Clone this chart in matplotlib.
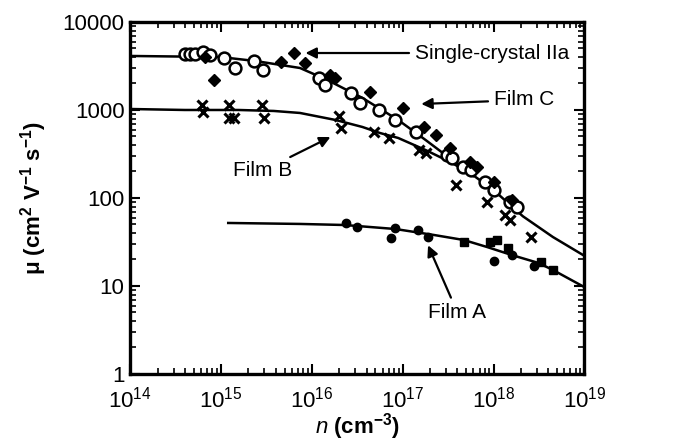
import matplotlib
matplotlib.use("Agg")
import matplotlib.pyplot as plt

plt.rcParams["font.family"] = ["Liberation Sans", "DejaVu Sans"]
plt.rcParams["mathtext.fontset"] = "custom"
plt.rcParams["mathtext.rm"] = "Liberation Sans"
plt.rcParams["mathtext.it"] = "Liberation Sans:italic"
plt.rcParams["mathtext.bf"] = "Liberation Sans:bold"

# carrier density n (cm^-3) and Hall mobility mu (cm^2 V^-1 s^-1)
film_c_n = [4.0e14, 4.5e14, 5.2e14, 6.3e14, 7.6e14, 1.07e15, 1.44e15, 2.3e15, 2.9e15,
            1.2e16, 1.38e16, 2.7e16, 3.4e16, 5.5e16, 8.3e16, 1.4e17, 3.1e17, 3.5e17,
            4.6e17, 5.7e17, 8.1e17, 1.02e18, 1.5e18, 1.8e18]
film_c_mu = [4330, 4330, 4330, 4570, 4220, 3890, 3020, 3630, 2820,
             2290, 1900, 1580, 1200, 1000, 776, 562, 309, 282,
             224, 209, 151, 123, 89, 79]

crystal_n = [6.6e14, 8.3e14, 4.6e15, 6.3e15, 8.3e15, 1.58e16, 1.8e16, 4.4e16,
             1.0e17, 1.7e17, 2.3e17, 3.3e17, 5.5e17, 6.5e17, 1.0e18, 1.6e18]
crystal_mu = [3990, 2190, 3510, 4440, 3420, 2500, 2310, 1600,
              1050, 646, 520, 371, 257, 225, 151, 95]

film_b_n = [6.2e14, 6.3e14, 1.23e15, 1.23e15, 1.38e15, 2.8e15, 3.0e15, 2.0e16, 2.1e16,
            4.8e16, 7.1e16, 1.5e17, 1.8e17, 3.9e17, 8.5e17, 1.35e18, 1.5e18, 2.6e18]
film_b_mu = [1140, 950, 1140, 811, 811, 1140, 811, 853, 624,
             562, 480, 351, 324, 141, 90, 64, 56, 36]

film_a_circ_n = [2.4e16, 3.1e16, 8.3e16, 7.4e16, 1.48e17, 1.9e17, 1.0e18, 1.6e18, 2.8e18]
film_a_circ_mu = [52, 46.8, 45.6, 35, 43, 36, 19.2, 22.5, 16.9]
film_a_sq_n = [4.7e17, 9.1e17, 1.1e18, 1.45e18, 3.3e18, 4.5e18]
film_a_sq_mu = [31.6, 31.6, 33, 27, 18.7, 15.2]

# fitted curves
fit_c_n = [1e14, 9.8e14, 2.4e15, 7.4e15, 1.48e16, 3.6e16, 8.9e16, 1.78e17, 3.5e17,
           1.0e18, 2.1e18, 4.5e18, 1e19]
fit_c_mu = [4110, 4000, 3600, 3000, 2190, 1370, 770, 457, 270, 123, 62, 36, 22]
fit_b_n = [1e14, 4.0e14, 1.55e15, 3.8e15, 7.4e15, 1.82e16, 3.6e16, 5.6e16, 8.9e16,
           1.78e17, 3.5e17, 6.0e17]
fit_b_mu = [1026, 1000, 1000, 975, 925, 770, 641, 548, 481, 351, 250, 178]
fit_a_n = [1.2e15, 7.4e15, 2.3e16, 8.3e16, 2.2e17, 4.7e17, 8.5e17, 1.58e18, 3.1e18,
           4.5e18, 1e19]
fit_a_mu = [52, 50.7, 49.3, 44.4, 38, 33.3, 27.7, 22.5, 18.3, 15.2, 9.7]

fig = plt.figure(figsize=(6.78, 4.45), dpi=100)
ax = fig.add_axes([0.192, 0.1596, 0.670, 0.791])

lw_fit = 1.8
ax.plot(fit_c_n, fit_c_mu, color="black", lw=lw_fit)
ax.plot(fit_b_n, fit_b_mu, color="black", lw=lw_fit)
ax.plot(fit_a_n, fit_a_mu, color="black", lw=lw_fit)

ax.plot(film_c_n, film_c_mu, "o", ms=8.5, mfc="white", mec="black", mew=1.8)
ax.plot(crystal_n, crystal_mu, "D", ms=6, color="black")
ax.plot(film_b_n, film_b_mu, "x", ms=6.5, mec="black", mew=2.2)
ax.plot(film_a_circ_n, film_a_circ_mu, "o", ms=6, color="black")
ax.plot(film_a_sq_n, film_a_sq_mu, "s", ms=5.5, color="black")

ax.set_xscale("log")
ax.set_yscale("log")
ax.set_xlim(1e14, 1e19)
ax.set_ylim(1, 1e4)

ax.set_xticks([1e14, 1e15, 1e16, 1e17, 1e18, 1e19])
ax.set_xticklabels([r"$10^{%d}$" % k for k in range(14, 20)])
ax.set_yticks([1, 10, 100, 1000, 10000])
ax.set_yticklabels(["1", "10", "100", "1000", "10000"])
ax.tick_params(which="major", direction="in", length=7, width=1.5,
               top=True, right=True, labelsize=16)
ax.tick_params(axis="x", which="major", pad=9)
ax.tick_params(axis="y", which="major", pad=4)
ax.tick_params(which="minor", direction="in", length=4, width=1.2,
               top=True, right=True)
for sp in ax.spines.values():
    sp.set_linewidth(2.4)

ax.set_xlabel(r"$\mathit{n}$ $\mathbf{(cm^{-3})}$", fontsize=16, labelpad=-1)
ax.set_ylabel(r"μ (cm$^{\mathbf{2}}$ V$^{\mathbf{-1}}$ s$^{\mathbf{-1}}$)",
              fontsize=16, fontweight="bold", labelpad=10)

arrow = dict(arrowstyle="-|>", color="black", lw=1.6, mutation_scale=16,
             shrinkA=2, shrinkB=0)
lbl = dict(fontsize=15, va="center", ha="left")
ax.annotate("Single-crystal IIa", xy=(8.5e15, 4440), xytext=(1.35e17, 4440),
            arrowprops=arrow, **lbl)
ax.annotate("Film C", xy=(1.6e17, 1170), xytext=(1.0e18, 1300),
            arrowprops=arrow, **lbl)
ax.annotate("Film B", xy=(1.6e16, 493), xytext=(2.9e15, 205),
            arrowprops=arrow, fontsize=15, ha="center", va="center")
ax.annotate("Film A", xy=(1.9e17, 29), xytext=(4.0e17, 5.0),
            arrowprops=arrow, fontsize=15, ha="center", va="center")

fig.savefig("out.png", dpi=100)
